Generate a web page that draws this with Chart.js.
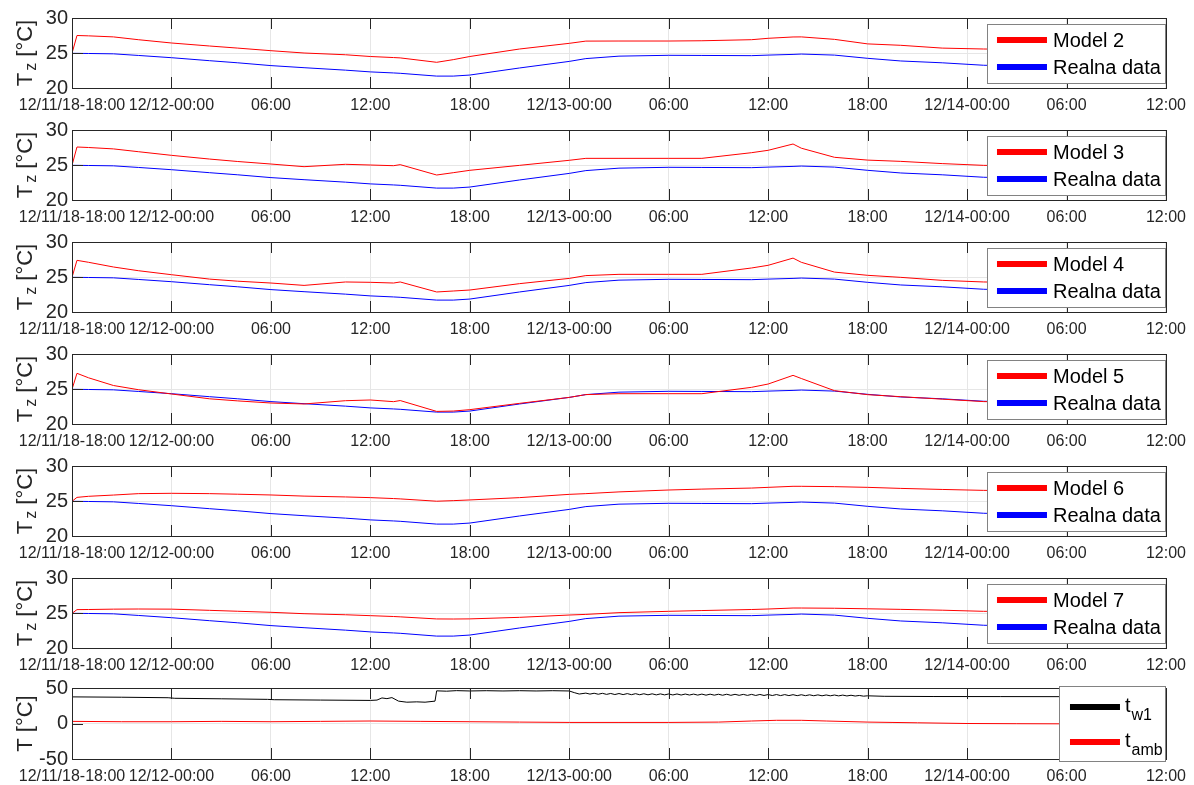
<!DOCTYPE html>
<html>
<head>
<meta charset="utf-8">
<script src="https://cdn.jsdelivr.net/npm/chart.js@4/dist/chart.umd.min.js"></script>
<style>
body { margin: 0; background: #fff; }
#wrap { position: relative; width: 1194px; height: 785px; }
canvas { position: absolute; left: 0; display: block; }
</style>
</head>
<body>
<div id="wrap"></div>
<script>
// hours since 12/11 18:00
const tickHours = [0, 6, 12, 18, 24, 30, 36, 42, 48, 54, 60, 66];
const tickLabels = ['12/11/18-18:00', '12/12-00:00', '06:00', '12:00', '18:00', '12/13-00:00',
  '06:00', '12:00', '18:00', '12/14-00:00', '06:00', '12:00'];

const hours = [0, 0.3, 1, 2.5, 4, 6, 8.3, 10, 12, 14, 16.5, 18, 19.4, 19.8, 22, 23, 24, 27, 30, 31,
  33, 36, 38, 41, 42, 43.5, 44, 46, 48, 50, 52.5, 55, 58, 60];

const realData = [24.95, 24.95, 24.93, 24.88, 24.65, 24.33, 23.9, 23.6, 23.2, 22.9, 22.55, 22.3, 22.15, 22.1,
  21.7, 21.7, 21.85, 22.86, 23.8, 24.2, 24.55, 24.67, 24.65, 24.62, 24.7, 24.8, 24.85, 24.7, 24.24, 23.86,
  23.6, 23.25, 23.1, 23.0];
const model2 = [24.95, 27.5, 27.45, 27.3, 26.9, 26.43, 26.0, 25.7, 25.33, 25.0, 24.75, 24.5, 24.35, 24.3,
  23.67, 24.05, 24.5, 25.57, 26.38, 26.7, 26.71, 26.71, 26.75, 26.9, 27.1, 27.29, 27.3, 26.95, 26.3, 26.1,
  25.7, 25.57, 25.5, 25.45];
const model3 = [24.95, 27.57, 27.5, 27.3, 26.9, 26.38, 25.85, 25.5, 25.14, 24.76, 25.1, 25.0, 24.9, 25.05,
  23.57, 23.9, 24.24, 24.95, 25.67, 25.95, 25.95, 25.95, 25.95, 26.76, 27.1, 28.0, 27.4, 26.1, 25.7, 25.52,
  25.2, 24.95, 24.85, 24.8];
const model4 = [24.95, 27.38, 27.1, 26.43, 25.9, 25.33, 24.7, 24.4, 24.14, 23.8, 24.29, 24.24, 24.14, 24.29,
  22.86, 23.0, 23.14, 24.05, 24.8, 25.2, 25.38, 25.38, 25.38, 26.29, 26.67, 27.7, 27.1, 25.7, 25.24, 24.95,
  24.52, 24.29, 24.2, 24.15];
const model5 = [24.95, 27.24, 26.6, 25.5, 24.9, 24.29, 23.6, 23.3, 23.0, 22.86, 23.33, 23.43, 23.19, 23.35,
  21.8, 21.85, 22.05, 22.95, 23.8, 24.2, 24.33, 24.33, 24.33, 25.24, 25.71, 26.95, 26.5, 24.76, 24.19, 23.9,
  23.55, 23.2, 23.1, 23.0];
const model6 = [24.95, 25.52, 25.67, 25.85, 26.05, 26.1, 26.05, 25.97, 25.86, 25.7, 25.58, 25.48, 25.35, 25.3,
  24.97, 25.05, 25.15, 25.48, 25.95, 26.05, 26.3, 26.57, 26.7, 26.85, 26.95, 27.1, 27.1, 27.05, 26.95, 26.8,
  26.65, 26.52, 26.45, 26.4];
const model7 = [24.95, 25.48, 25.5, 25.55, 25.57, 25.55, 25.38, 25.25, 25.1, 24.9, 24.75, 24.62, 24.5, 24.45,
  24.15, 24.14, 24.16, 24.38, 24.71, 24.8, 25.05, 25.24, 25.35, 25.5, 25.57, 25.71, 25.71, 25.68, 25.6, 25.52,
  25.4, 25.24, 25.2, 25.15];

const models = [model2, model3, model4, model5, model6, model7];
const modelNames = ['Model 2', 'Model 3', 'Model 4', 'Model 5', 'Model 6', 'Model 7'];

// bottom panel: water temperature t_w1
const twHours = [0, 3, 5.8, 6.2, 9, 11.8, 12.2, 15, 18, 18.4, 18.7, 19.0, 19.3, 19.7, 20.2, 20.8, 21.3, 21.9,
  22.0, 22.6, 23.2, 24, 25, 26, 27, 28, 29, 30, 30.3, 30.6,
  31, 31.25, 31.5, 31.75, 32, 32.25, 32.5, 32.75, 33, 33.25, 33.5, 33.75, 34, 34.25, 34.5, 34.75,
  35, 35.25, 35.5, 35.75, 36, 36.25, 36.5, 36.75, 37, 37.25, 37.5, 37.75, 38, 38.25, 38.5, 38.75,
  39, 39.25, 39.5, 39.75, 40, 40.25, 40.5, 40.75, 41, 41.25, 41.5, 41.75, 42, 42.25, 42.5, 42.75,
  43, 43.25, 43.5, 43.75, 44, 44.25, 44.5, 44.75, 45, 45.25, 45.5, 45.75, 46, 46.25, 46.5, 46.75,
  47, 47.25, 47.5, 47.75, 48, 49, 52, 56, 60];
const twValues = [37.5, 37, 36.3, 35.5, 34.8, 34, 33.5, 33, 32.5, 33, 36, 35, 36.5, 31.5, 30, 30.5, 30, 31.5,
  46, 45.5, 46.3, 45.8, 46.2, 45.8, 46.2, 45.8, 46.2, 45.8, 43.5, 41.5,
  42.8, 41.4, 42.6, 41.2, 42.5, 41.0, 42.3, 40.8, 42.2, 40.7, 42.1, 40.6, 42.0, 40.5, 41.9, 40.4,
  41.8, 40.3, 41.7, 40.3, 41.6, 40.2, 41.6, 40.1, 41.5, 40.1, 41.4, 40.0, 41.4, 39.9, 41.3, 39.9,
  41.2, 39.8, 41.2, 39.7, 41.1, 39.7, 41.0, 39.6, 41.0, 39.5, 40.9, 39.5, 40.8, 39.4, 40.8, 39.3,
  40.7, 39.3, 40.6, 39.2, 40.5, 39.2, 40.4, 39.1, 40.3, 39.0, 40.2, 39.0, 40.1, 38.9, 40.0, 38.8,
  39.8, 38.7, 39.5, 38.5, 39.0, 38.3, 38.0, 37.9, 37.8];

// ambient temperature t_amb
const ambHours = [0, 3, 6, 9, 12, 15, 18, 21, 24, 27, 30, 33, 36, 39, 41, 42.5, 44, 45.5, 48, 51, 54, 57, 60];
const ambValues = [3, 2.5, 2.5, 3, 2.5, 3, 3.5, 3, 2.5, 2, 1.5, 1.5, 1.5, 2, 3.5, 4.5, 4.5, 3.5, 2, 1, 0, -0.3, -0.5];

const FONT = '"Liberation Sans", Arial, Helvetica, sans-serif';

function pts(xs, ys) {
  return xs.map((h, i) => ({ x: h, y: ys[i] }));
}

// draws MATLAB-like box, inward ticks, y title with subscript and legend
const axesDeco = {
  id: 'axesDeco',
  afterDatasetsDraw(chart, args, o) {
    const ctx = chart.ctx;
    const a = chart.chartArea;
    const xs = chart.scales.x, ys = chart.scales.y;
    ctx.save();
    ctx.strokeStyle = '#262626';
    ctx.lineWidth = 1;
    ctx.beginPath();
    xs.ticks.forEach(t => {
      const px = Math.round(xs.getPixelForValue(t.value)) + 0.5;
      ctx.moveTo(px, a.top); ctx.lineTo(px, a.top + 11);
      ctx.moveTo(px, a.bottom); ctx.lineTo(px, a.bottom - 11);
    });
    ys.ticks.forEach(t => {
      const py = Math.round(ys.getPixelForValue(t.value)) + 0.5;
      ctx.moveTo(a.left, py); ctx.lineTo(a.left + 11, py);
      ctx.moveTo(a.right, py); ctx.lineTo(a.right - 11, py);
    });
    ctx.stroke();
    ctx.strokeRect(Math.round(a.left) + 0.5, Math.round(a.top) + 0.5, Math.round(a.width), Math.round(a.height));

    // y title
    ctx.save();
    ctx.translate(o.titleX, (a.top + a.bottom) / 2);
    ctx.rotate(-Math.PI / 2);
    ctx.fillStyle = '#262626';
    ctx.textBaseline = 'alphabetic';
    let total = 0;
    o.title.forEach(p => {
      ctx.font = (p.sub ? 16 : 22) + 'px ' + FONT;
      total += ctx.measureText(p.t).width + (p.gap || 0);
    });
    let cx = -total / 2;
    o.title.forEach(p => {
      ctx.font = (p.sub ? 16 : 22) + 'px ' + FONT;
      cx += (p.gap || 0);
      ctx.fillText(p.t, cx, p.sub ? 12 : 8);
      cx += ctx.measureText(p.t).width;
    });
    ctx.restore();

    // legend
    const L = o.legend;
    const bx = a.right - L.w, by = a.top + L.dy;
    ctx.fillStyle = '#fff';
    ctx.fillRect(bx, by, L.w, L.h);
    ctx.strokeStyle = '#828282';
    ctx.strokeRect(Math.round(bx) + 0.5, Math.round(by) + 0.5, L.w - 1, L.h);
    L.items.forEach((it, i) => {
      const ry = a.top + L.rows[i];
      ctx.strokeStyle = it.color;
      ctx.lineWidth = 6;
      ctx.beginPath();
      ctx.moveTo(bx + L.lx0, ry); ctx.lineTo(bx + L.lx1, ry);
      ctx.stroke();
      ctx.fillStyle = '#000';
      ctx.font = '20px ' + FONT;
      ctx.textBaseline = it.sub ? 'alphabetic' : 'middle';
      if (it.sub) {
        ctx.fillText(it.text, bx + L.tx, ry + 5);
        const w = ctx.measureText(it.text).width;
        ctx.font = '16px ' + FONT;
        ctx.fillText(it.sub, bx + L.tx + w + 1, ry + 13);
      } else {
        ctx.fillText(it.text, bx + L.tx, ry + 1);
      }
    });
    ctx.restore();
  }
};

function makePanel(top, height, datasets, yMin, yMax, yStep, deco, padTop, axisH) {
  const cv = document.createElement('canvas');
  cv.width = 1194;
  cv.height = height;
  cv.style.top = top + 'px';
  document.getElementById('wrap').appendChild(cv);
  return new Chart(cv, {
    type: 'line',
    data: { datasets: datasets },
    options: {
      responsive: false,
      animation: false,
      events: [],
      layout: { padding: { top: padTop, right: 25, bottom: 0, left: 0 } },
      plugins: { legend: { display: false }, tooltip: { enabled: false }, axesDeco: deco },
      elements: { point: { radius: 0 }, line: { borderWidth: 1, tension: 0 } },
      scales: {
        x: {
          type: 'linear', min: 0, max: 66,
          afterBuildTicks: s => { s.ticks = tickHours.map(v => ({ value: v })); },
          afterFit: s => { s.height = axisH; },
          ticks: {
            autoSkip: false, maxRotation: 0, padding: 8,
            color: '#262626', font: { family: FONT, size: 16 },
            callback: (v, i) => tickLabels[i]
          },
          grid: { color: '#e6e6e6', drawTicks: false },
          border: { display: false }
        },
        y: {
          min: yMin, max: yMax,
          afterBuildTicks: s => {
            const t = [];
            for (let v = yMin; v <= yMax; v += yStep) t.push({ value: v });
            s.ticks = t;
          },
          afterFit: s => { s.width = 72; },
          ticks: { padding: 4, color: '#262626', font: { family: FONT, size: 20 } },
          grid: { color: '#e6e6e6', drawTicks: false },
          border: { display: false }
        }
      }
    },
    plugins: [axesDeco]
  });
}

const tzTitle = [{ t: 'T' }, { t: 'z', sub: true, gap: 2 }, { t: ' [°C]' }];

models.forEach((m, i) => {
  makePanel(i * 112, 112, [
    { label: modelNames[i], data: pts(hours, m), borderColor: '#ff0000' },
    { label: 'Realna data', data: pts(hours, realData), borderColor: '#0000ff' }
  ], 20, 30, 5, {
    titleX: 24,
    title: tzTitle,
    legend: {
      w: 179, h: 59, dy: 6, rows: [22, 49], lx0: 10, lx1: 60, tx: 66,
      items: [{ text: modelNames[i], color: '#ff0000' }, { text: 'Realna data', color: '#0000ff' }]
    }
  }, 18, 24);
});

makePanel(672, 113, [
  { label: 't_w1', data: pts(twHours, twValues), borderColor: '#000000' },
  { label: 't_amb', data: pts(ambHours, ambValues), borderColor: '#ff0000' }
], -50, 50, 50, {
  titleX: 24,
  title: [{ t: 'T [°C]' }],
  legend: {
    w: 107, h: 75, dy: -2, rows: [19, 54], lx0: 11, lx1: 61, tx: 66,
    items: [{ text: 't', sub: 'w1', color: '#000000' }, { text: 't', sub: 'amb', color: '#ff0000' }]
  }
}, 16, 26);
</script>
</body>
</html>
